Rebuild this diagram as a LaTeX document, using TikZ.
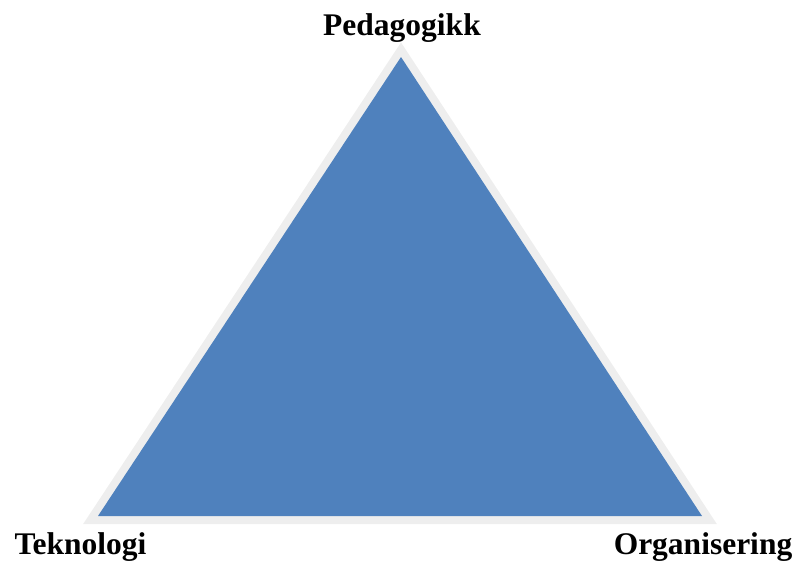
\documentclass[tikz,border=0pt]{standalone}
\usepackage{fontspec}
\setmainfont{Liberation Serif}
\begin{document}
\begin{tikzpicture}[x=1pt,y=-1pt,
  corner/.style={font=\fontsize{31.5}{36}\selectfont\bfseries, inner sep=0pt, anchor=base}]
\useasboundingbox (0,0) rectangle (796,563);
\coordinate (top) at (401,57);
\coordinate (bl) at (98,516);
\coordinate (br) at (702,516);
% light frame around the triangle
\draw[line width=16, line join=miter, color={rgb,255:red,238;green,238;blue,238}] (top) -- (bl) -- (br) -- cycle;
\fill[color={rgb,255:red,79;green,129;blue,189}] (top) -- (bl) -- (br) -- cycle;
\node[corner] (ped) at (402,35) {Pedagogikk};
\node[corner] (tek) at (80.5,554) {Teknologi};
\node[corner] (org) at (703,554) {Organisering};
\end{tikzpicture}
\end{document}
